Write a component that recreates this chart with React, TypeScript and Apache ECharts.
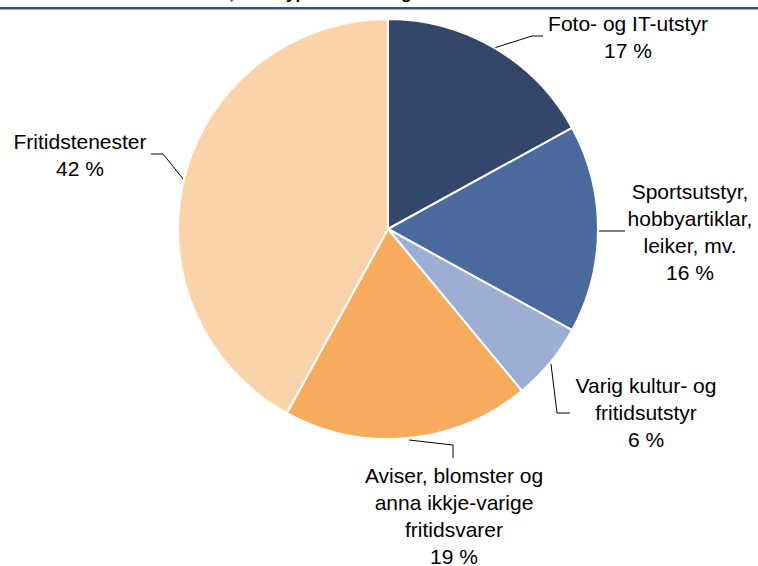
import React, { useEffect, useRef } from "react";
import * as echarts from "echarts";

const categories = [
  "Foto- og IT-utstyr",
  "Sportsutstyr,\nhobbyartiklar,\nleiker, mv.",
  "Varig kultur- og\nfritidsutstyr",
  "Aviser, blomster og\nanna ikkje-varige\nfritidsvarer",
  "Fritidstenester",
];
const shares = [17, 16, 6, 19, 42];
const colors = ["#34466a", "#4a699c", "#9caed2", "#f7ab5c", "#fad3aa"];
const titleText = "Fritidskostnader, etter type tenester og varer";

// label block centres and leader line points (layout only)
const labelPos = [
  { x: 628, y: 37, line: [[494, 48], [532, 36], [543, 36]] },
  { x: 690, y: 232, line: [[598, 231], [611, 231], [625, 231]] },
  { x: 646, y: 412, line: [[551, 364], [557, 413], [570, 413]] },
  { x: 454, y: 516, line: [[409, 440], [453, 445], [453, 458]] },
  { x: 80, y: 155, line: [[184, 180], [163, 154], [151, 154]] },
];

export default function App() {
  const ref = useRef<HTMLDivElement>(null);
  useEffect(() => {
    if (!ref.current) return;
    const chart = echarts.init(ref.current, undefined, { renderer: "svg" });
    chart.setOption({
      animation: false,
      backgroundColor: "#ffffff",
      graphic: [
        {
          type: "rect",
          left: 0,
          top: 7,
          shape: { x: 0, y: 0, width: 758, height: 2.5 },
          style: { fill: "#3b5486" },
        },
        {
          type: "text",
          x: 97,
          y: -6.5,
          style: {
            text: titleText,
            font: "bold 17px 'Liberation Sans', Arial, sans-serif",
            fill: "#000",
            align: "left",
            verticalAlign: "middle",
          },
        },
      ],
      series: [
        {
          type: "pie",
          center: [388, 229],
          radius: 210,
          startAngle: 90,
          clockwise: true,
          avoidLabelOverlap: false,
          itemStyle: { borderColor: "#ffffff", borderWidth: 2 },
          label: {
            show: true,
            position: "outside",
            formatter: "{b}\n{c} %",
            fontFamily: "'Liberation Sans', Arial, sans-serif",
            fontSize: 21,
            lineHeight: 27,
            color: "#000",
            align: "center",
          },
          labelLine: {
            show: true,
            length: 15,
            length2: 10,
            lineStyle: { color: "#000", width: 1 },
          },
          labelLayout: (params: any) => {
            const p = labelPos[params.dataIndex];
            return {
              x: p.x,
              y: p.y,
              align: "center",
              verticalAlign: "middle",
              labelLinePoints: p.line,
            };
          },
          emphasis: { disabled: true },
          data: categories.map((name, i) => ({
            name,
            value: shares[i],
            itemStyle: { color: colors[i] },
          })),
        },
      ],
    });
    return () => chart.dispose();
  }, []);
  return (
    <div
      ref={ref}
      style={{ position: "fixed", left: 0, top: 0, width: 758, height: 566 }}
    />
  );
}
